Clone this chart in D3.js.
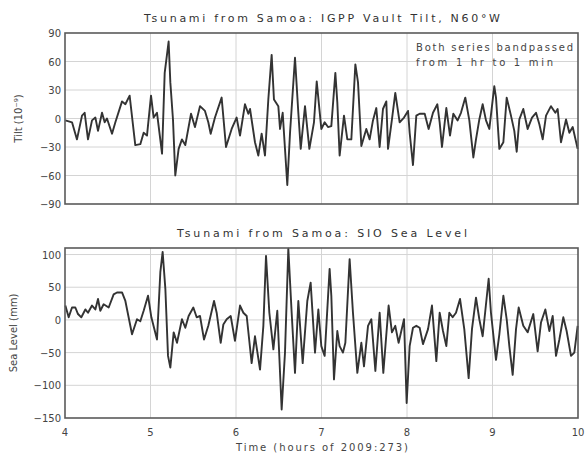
<!DOCTYPE html>
<html>
<head>
<meta charset="utf-8">
<script src="https://cdn.jsdelivr.net/npm/d3@7"></script>
<style>
  body { margin: 0; background: #fff; }
  svg { display: block; font-family: "DejaVu Sans", sans-serif; }
</style>
</head>
<body>
<div id="chart"></div>
<script>
// tilt series (hours of 2009:273, 10^-9)
const tiltTime = [4.004,4.082,4.140,4.199,4.230,4.269,4.316,4.355,4.386,4.433,4.464,4.491,4.550,4.589,4.667,4.706,4.756,4.822,4.881,4.920,4.959,5.006,5.037,5.076,5.135,5.166,5.212,5.232,5.263,5.290,5.329,5.368,5.407,5.474,
  5.520,5.579,5.637,5.676,5.704,5.754,5.832,5.883,5.949,6.007,6.047,6.105,6.144,6.164,6.222,6.261,6.300,6.339,6.378,6.417,6.444,6.495,6.515,6.546,6.600,6.632,6.690,6.729,6.757,6.807,6.858,6.912,6.944,
  6.998,7.037,7.076,7.115,7.162,7.185,7.212,7.263,7.302,7.349,7.396,7.427,7.466,7.524,7.563,7.602,7.641,7.680,7.719,7.758,7.778,7.824,7.863,7.914,7.965,8.012,8.031,8.070,8.109,8.148,8.207,8.253,8.304,8.355,8.382,8.409,8.460,
  8.503,8.542,8.592,8.631,8.682,8.729,8.776,8.807,8.846,8.885,8.924,8.963,9.021,9.041,9.080,9.127,9.166,9.216,9.255,9.283,9.314,9.360,9.411,9.462,9.509,9.548,9.587,9.626,9.684,9.735,9.762,9.801,9.860,9.899,9.938,9.996];
const tiltValue = [-2,-4,-22,3,6,-22,-2,1,-13,6,-4,0,-16,-4,18,15,24,-28,-27,-15,-18,24,1,6,-37,48,81,38,-1,-60,-32,-22,-28,5,
  -9,13,8,-4,-16,1,22,-30,-11,1,-18,15,5,10,-25,-39,-16,-39,20,67,20,13,-11,6,-70,-15,64,6,-32,13,-32,-4,39,
  -11,-4,-9,-8,48,17,-39,3,-22,-22,57,38,-29,-11,-22,-2,11,-30,10,18,-32,-1,27,-4,1,8,-15,-49,3,5,5,-11,6,15,-4,-30,11,
  -18,5,-2,6,22,-2,-41,-22,-1,15,-2,-11,34,22,-32,-25,22,3,-13,-35,-1,10,-11,1,6,-6,-22,3,13,6,10,-25,-1,-15,-9,-32];

// sea level series (mm)
const seaTime = [4.004,4.043,4.082,4.121,4.152,4.191,4.238,4.269,4.316,4.355,4.386,4.413,4.452,4.511,4.569,4.608,4.667,4.706,4.784,4.842,4.881,4.920,4.971,5.010,5.076,5.115,5.142,5.174,5.205,5.232,5.271,5.310,5.368,5.407,5.446,
  5.501,5.540,5.579,5.626,5.676,5.743,5.774,5.821,5.852,5.891,5.938,5.988,6.047,6.086,6.125,6.183,6.222,6.281,6.320,6.351,6.390,6.437,6.483,6.534,6.573,6.612,6.651,6.690,6.729,6.780,6.834,6.873,6.924,6.963,
  6.998,7.037,7.095,7.115,7.146,7.185,7.212,7.251,7.279,7.329,7.368,7.419,7.466,7.497,7.544,7.583,7.630,7.680,7.723,7.785,7.824,7.863,7.902,7.965,7.996,8.031,8.070,8.109,8.148,8.187,8.246,8.292,8.343,8.382,8.421,8.460,
  8.495,8.534,8.573,8.620,8.670,8.721,8.760,8.807,8.846,8.885,8.955,8.982,9.041,9.080,9.127,9.166,9.197,9.236,9.275,9.306,9.360,9.411,9.477,9.528,9.567,9.618,9.665,9.704,9.743,9.782,9.828,9.867,9.918,9.957,9.996];
const seaValue = [22,4,19,19,9,4,16,11,22,16,32,14,24,19,39,42,42,29,-22,1,-2,14,37,4,-30,73,104,47,-55,-73,-19,-35,1,-12,6,
  19,4,6,-30,-9,29,11,-35,-7,1,6,-32,22,11,6,-66,-25,-76,-9,98,11,-45,14,-137,-50,109,11,-81,29,-66,29,57,-50,16,
  -40,-55,78,37,-91,-17,-40,-50,-35,93,11,-81,-35,-71,-9,1,-78,11,-81,22,-19,-9,-35,1,-127,-40,-12,-9,-12,-37,-14,22,-63,11,-17,-40,
  11,4,11,32,-14,-89,-14,34,1,-25,63,11,-61,-22,37,1,-40,-84,-14,19,-9,-19,9,-48,-4,16,-17,6,-55,-30,4,-17,-55,-50,-9];

const xTicks = [4, 5, 6, 7, 8, 9, 10];
const tiltTicks = [-90, -60, -30, 0, 30, 60, 90];
const seaTicks = [-150, -100, -50, 0, 50, 100];

const W = 587, H = 455;
const left = 65, right = 578;

const svg = d3.select("#chart").append("svg").attr("width", W).attr("height", H);

const x = d3.scaleLinear().domain([4, 10]).range([left, right]);

const fmt = v => (v < 0 ? "\u2212" + Math.abs(v) : String(v));

function panel(top, bottom, yDomain, yTicks, times, values, title, titleLen, yLabel, yLabelX) {
    const y = d3.scaleLinear().domain(yDomain).range([bottom, top]);
    const g = svg.append("g");

    // grid
    g.selectAll(".gx").data(xTicks.slice(1, -1)).join("line")
        .attr("x1", d => x(d)).attr("x2", d => x(d)).attr("y1", top).attr("y2", bottom)
        .attr("stroke", "#d4d4d4").attr("stroke-width", 1);
    g.selectAll(".gy").data(yTicks.filter(d => d > yDomain[0] && d < yDomain[1])).join("line")
        .attr("x1", left).attr("x2", right).attr("y1", d => y(d)).attr("y2", d => y(d))
        .attr("stroke", "#d4d4d4").attr("stroke-width", 1);

    // series
    const line = d3.line().x(d => x(d[0])).y(d => y(d[1]));
    g.append("path").datum(times.map((t, i) => [t, values[i]]))
        .attr("d", line).attr("fill", "none").attr("stroke", "#333")
        .attr("stroke-width", 1.9).attr("stroke-linejoin", "round");

    // frame
    g.append("rect").attr("x", left).attr("y", top).attr("width", right - left).attr("height", bottom - top)
        .attr("fill", "none").attr("stroke", "#5a5a5a").attr("stroke-width", 1.6);

    // y tick labels
    g.selectAll(".yl").data(yTicks).join("text")
        .attr("x", left - 4).attr("y", d => y(d) + 4)
        .attr("text-anchor", "end").attr("font-size", 10).attr("fill", "#444")
        .text(fmt);

    // title
    g.append("text").attr("x", 322).attr("y", top - 11)
        .attr("text-anchor", "middle").attr("font-size", 11).attr("fill", "#333")
        .attr("textLength", titleLen).attr("lengthAdjust", "spacing")
        .text(title);

    // y label
    g.append("text")
        .attr("transform", `translate(${yLabelX},${(top + bottom) / 2}) rotate(-90)`)
        .attr("text-anchor", "middle").attr("font-size", 10).attr("fill", "#444")
        .text(yLabel);

    return y;
}

panel(33, 204, [-90, 90], tiltTicks, tiltTime, tiltValue,
    "Tsunami from Samoa: IGPP Vault Tilt, N60\u00b0W", 356, "Tilt (10\u207b\u2079)", 22);
panel(248, 418, [-150, 110], seaTicks, seaTime, seaValue,
    "Tsunami from Samoa: SIO Sea Level", 290, "Sea Level (mm)", 17);

// x tick labels (bottom panel only)
svg.selectAll(".xl").data(xTicks).join("text")
    .attr("x", d => x(d)).attr("y", 436)
    .attr("text-anchor", "middle").attr("font-size", 10).attr("fill", "#444")
    .text(d => d);

svg.append("text").attr("x", 322).attr("y", 451)
    .attr("text-anchor", "middle").attr("font-size", 10).attr("fill", "#444")
    .attr("textLength", 172).attr("lengthAdjust", "spacing")
    .text("Time (hours of 2009:273)");

// note in the top panel
const note = ["Both series bandpassed", "from 1 hr to 1 min"];
svg.selectAll(".note").data(note).join("text")
    .attr("x", 416).attr("y", (d, i) => 51 + i * 15)
    .attr("font-size", 10).attr("fill", "#444")
    .attr("textLength", (d, i) => i === 0 ? 157 : 137).attr("lengthAdjust", "spacing")
    .text(d => d);
</script>
</body>
</html>
